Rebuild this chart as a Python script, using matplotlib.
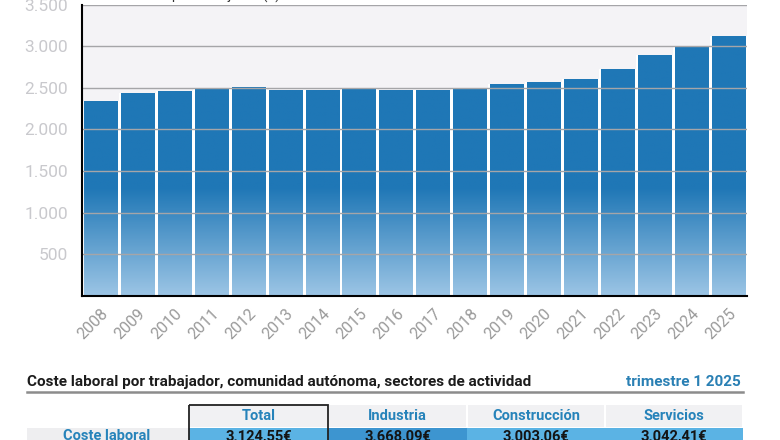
import numpy as np
import matplotlib
matplotlib.use("Agg")
import matplotlib.pyplot as plt
from matplotlib.colors import LinearSegmentedColormap
from matplotlib.patches import Rectangle
from matplotlib.ticker import FuncFormatter

plt.rcParams['font.family'] = ['Roboto', 'DejaVu Sans']

# datos
years = [str(y) for y in range(2008, 2026)]
coste = [2342, 2438, 2466, 2490, 2514, 2478, 2476, 2486, 2478,
         2478, 2498, 2550, 2570, 2602, 2726, 2898, 3006, 3125]
yticks = [500, 1000, 1500, 2000, 2500, 3000, 3500]

tabla_titulo = "Coste laboral por trabajador, comunidad autónoma, sectores de actividad"
tabla_periodo = "trimestre 1 2025"
columnas = ["Total", "Industria", "Construcción", "Servicios"]
fila = "Coste laboral"
valores = ["3.124,55€", "3.668,09€", "3.003,06€", "3.042,41€"]

W, H = 780, 440
fig = plt.figure(figsize=(W / 100, H / 100), dpi=100)
fig.patch.set_facecolor("white")

ax = fig.add_axes([82 / W, 1 - 296 / H, (747 - 82) / W, (296 - 4.6) / H])
ax.set_facecolor("#f4f3f6")
ax.set_ylim(0, 3500)

cmap = LinearSegmentedColormap.from_list(
    "azul", [(0, "#9cc5e5"), (0.37, "#1f77b6"), (1, "#1f77b6")])
grad = np.linspace(0, 1, 256).reshape(-1, 1)

# fondo blanco bajo cada barra para que los huecos se vean blancos
ax.bar(range(len(years)), coste, width=1.0, color="white", zorder=1.5)
bars = ax.bar(range(len(years)), coste, width=0.9, facecolor="none",
              edgecolor="none", zorder=4)
for b in bars:
    x0 = b.get_x()
    im = ax.imshow(grad, extent=[x0, x0 + b.get_width(), 0, 3500],
                   origin="lower", aspect="auto", cmap=cmap, zorder=2)
    im.set_clip_path(b)

ax.set_yticks(yticks)
ax.yaxis.set_major_formatter(FuncFormatter(lambda v, p: f"{int(v):,}".replace(",", ".")))
ax.grid(axis="y", color="#a5a5a8", linewidth=1, zorder=3)
ax.set_axisbelow(False)
ax.tick_params(axis="y", length=0, pad=10, labelsize=12.5, labelcolor="#c9c9cd")
ax.set_xticks(range(len(years)))
ax.set_xticklabels(years, rotation=45, ha="right", rotation_mode="anchor")
ax.tick_params(axis="x", length=0, pad=7, labelsize=11.5, labelcolor="#9a9a9a")
for s in ["top", "right"]:
    ax.spines[s].set_visible(False)
ax.spines["left"].set_linewidth(1.5)
ax.spines["bottom"].set_linewidth(1.5)
ax.spines["left"].set_zorder(6)
ax.spines["bottom"].set_zorder(6)
ax.set_xlim(-0.5, len(years) - 0.5)

fig.text(87 / W, 1 + 5 / H, "Coste laboral por trabajador (€)", fontsize=10,
         color="#333333", va="center", ha="left")

# tabla
tx = fig.add_axes([0, 0, 1, 1])
tx.set_xlim(0, W)
tx.set_ylim(H, 0)
tx.axis("off")

tx.text(27, 386, tabla_titulo, fontsize=11, fontweight="bold", color="#1c1c1c")
tx.text(741, 386, tabla_periodo, fontsize=11, fontweight="bold",
        color="#2a80b4", ha="right")
tx.plot([27, 743], [392.5, 392.5], color="#8c8c8c", linewidth=1.8)

bordes = [189, 328, 467, 605, 743]
colores = ["#5bb3e4", "#3d95d0", "#5bb3e4", "#5bb3e4"]
tx.add_patch(Rectangle((27, 428), 162, 20, facecolor="#eeeef0", edgecolor="none"))
tx.text(107, 436.5, fila, fontsize=10.5, fontweight="bold", color="#2683ba",
        ha="center", va="center")
for i, col in enumerate(columnas):
    x0, x1 = bordes[i], bordes[i + 1]
    tx.add_patch(Rectangle((x0 + 1, 405.5), x1 - x0 - 2, 22, facecolor="#f1f1f3",
                           edgecolor="none"))
    tx.add_patch(Rectangle((x0, 428), x1 - x0, 20, facecolor=colores[i],
                           edgecolor="none"))
    tx.text((x0 + x1) / 2, 416.5, col, fontsize=10.5, fontweight="bold",
            color="#2683ba", ha="center", va="center")
    tx.text((x0 + x1) / 2, 437, valores[i], fontsize=10.5, fontweight="bold",
            color="#141414", ha="center", va="center")
tx.add_patch(Rectangle((189, 405.3), 139, 40, facecolor="none",
                       edgecolor="#222222", linewidth=1.3))

fig.savefig("out.png", dpi=100)
